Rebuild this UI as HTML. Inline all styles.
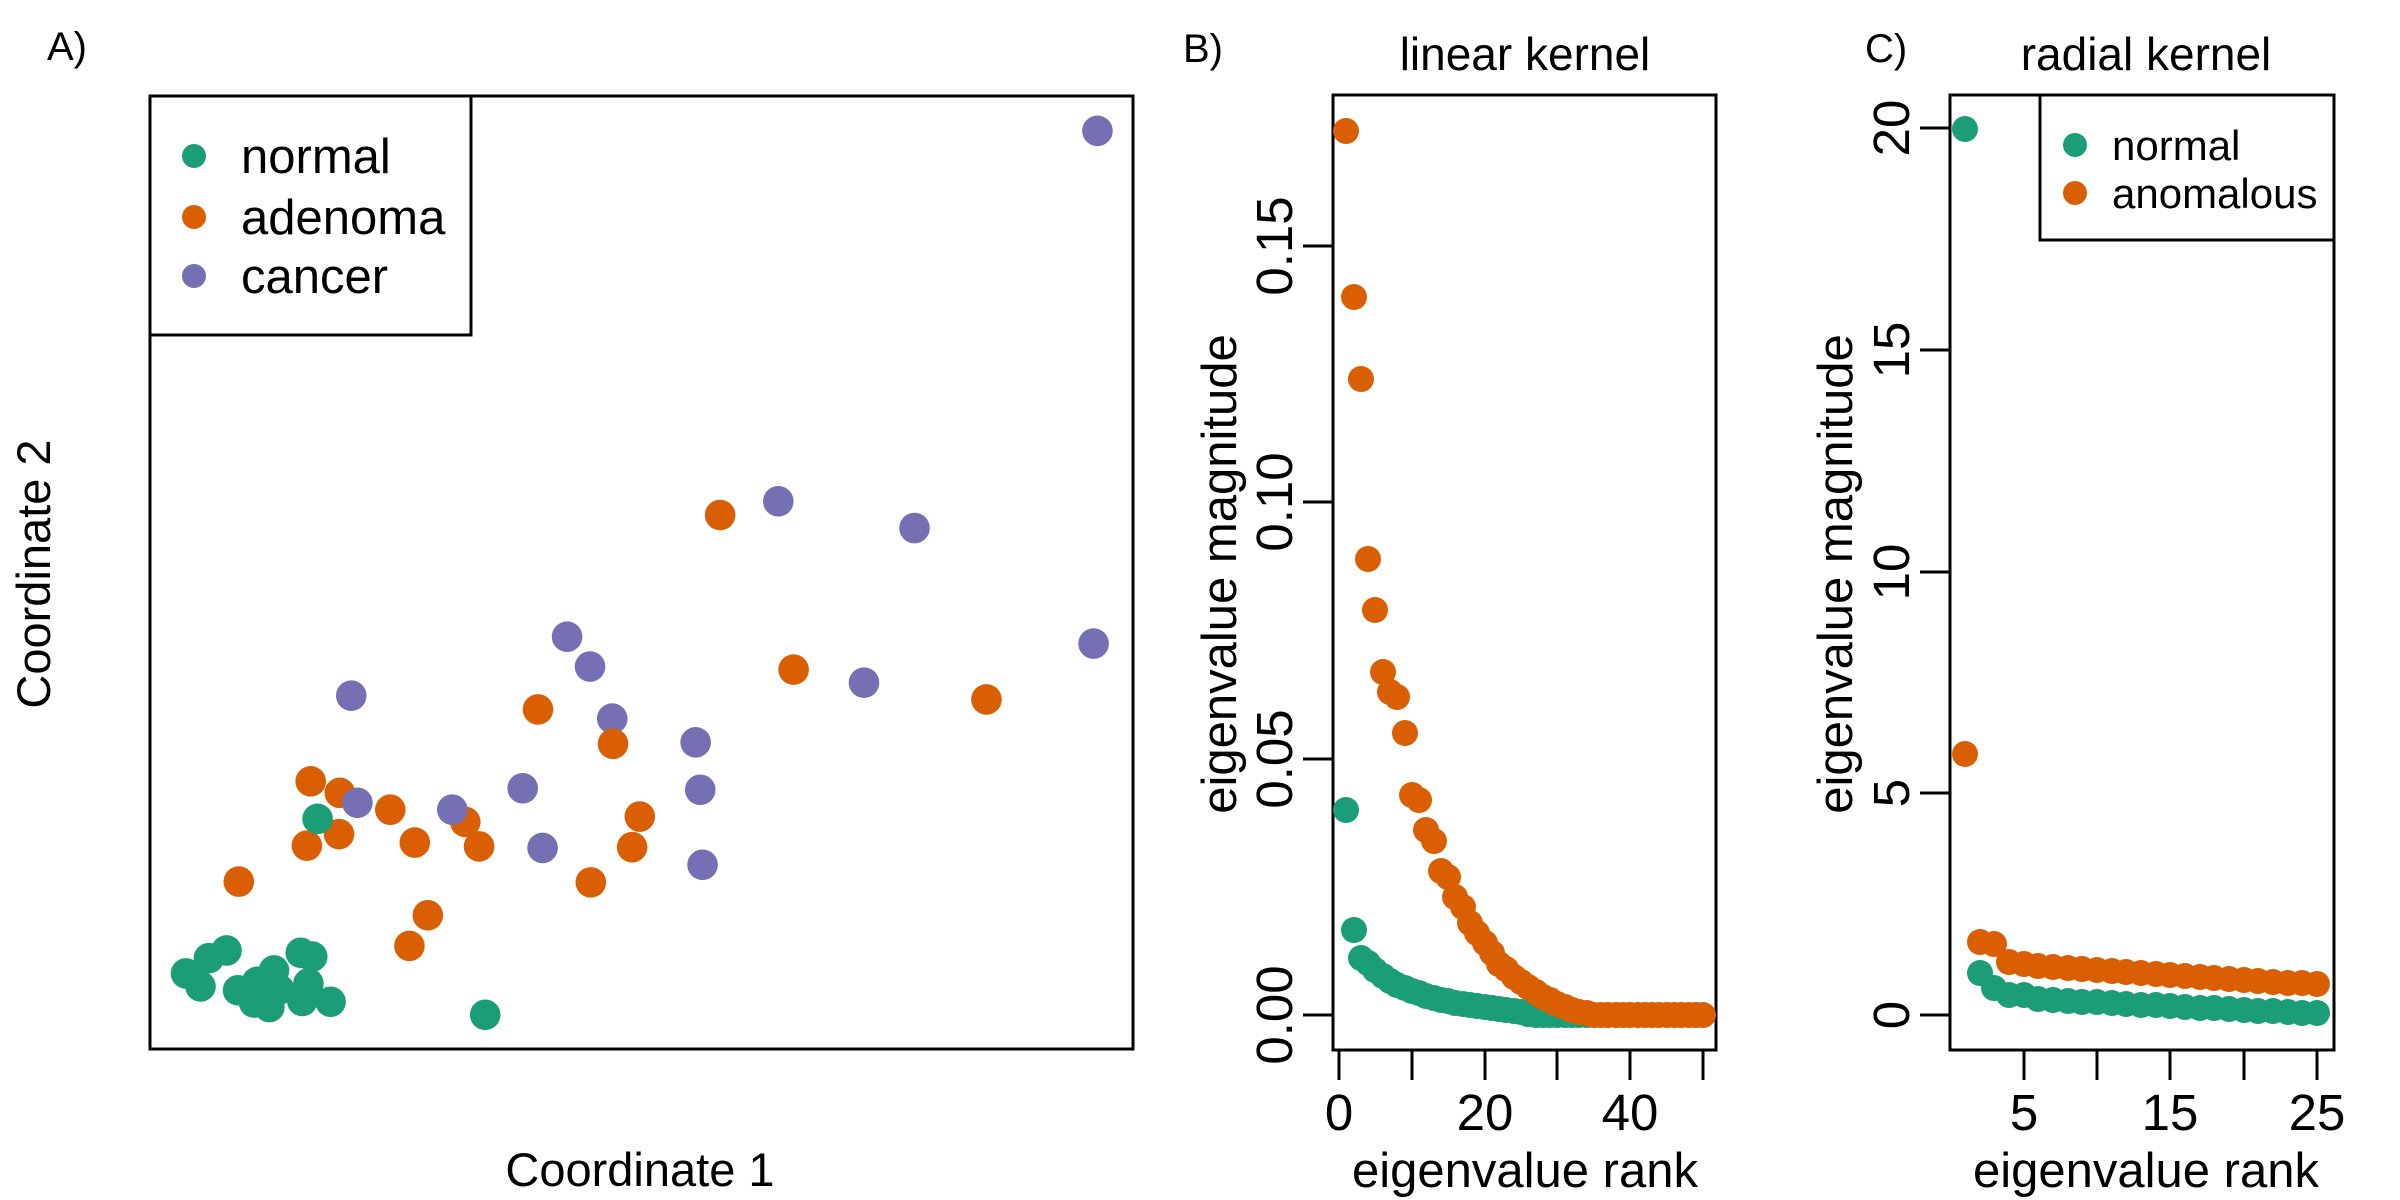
<!DOCTYPE html>
<html><head><meta charset="utf-8"><style>
html,body{margin:0;padding:0;background:#fff;}
svg{display:block;}
text{font-family:"Liberation Sans",sans-serif;fill:#000;}
</style></head><body>
<svg width="2400" height="1200" viewBox="0 0 2400 1200" xmlns="http://www.w3.org/2000/svg">
<!-- Panel A -->
<text x="47" y="60" font-size="40">A)</text>
<rect x="150" y="96" width="983" height="953" fill="none" stroke="#000" stroke-width="3"/>
<rect x="150" y="96" width="321" height="239" fill="none" stroke="#000" stroke-width="3"/>
<circle cx="194" cy="156" r="12" fill="#1B9E77"/>
<circle cx="194" cy="217" r="12" fill="#D95F02"/>
<circle cx="194" cy="276" r="12" fill="#7570B3"/>
<text x="241" y="173" font-size="49">normal</text>
<text x="241" y="234" font-size="49">adenoma</text>
<text x="241" y="293" font-size="49">cancer</text>
<text x="640" y="1186" font-size="47" text-anchor="middle">Coordinate 1</text>
<text transform="translate(50,574) rotate(-90)" font-size="47" text-anchor="middle">Coordinate 2</text>
<g transform="scale(0.76529)">
<g fill="#7570B3">
<circle cx="1434" cy="171" r="20"/><circle cx="1017" cy="655" r="20"/><circle cx="1195" cy="690" r="20"/><circle cx="1429" cy="841" r="20"/><circle cx="741" cy="832" r="20"/><circle cx="771" cy="871" r="20"/><circle cx="1129" cy="892" r="20"/><circle cx="459" cy="909" r="20"/><circle cx="800" cy="939" r="20"/><circle cx="909" cy="970" r="20"/><circle cx="915" cy="1032" r="20"/><circle cx="683" cy="1030" r="20"/><circle cx="709" cy="1108" r="20"/><circle cx="918" cy="1130" r="20"/>
</g>
<g fill="#D95F02">
<circle cx="941" cy="673" r="20"/><circle cx="1037" cy="875" r="20"/><circle cx="1289" cy="914" r="20"/><circle cx="703" cy="927" r="20"/><circle cx="801" cy="972" r="20"/><circle cx="406" cy="1021" r="20"/><circle cx="444" cy="1036" r="20"/><circle cx="510" cy="1058" r="20"/><circle cx="608" cy="1074" r="20"/><circle cx="443" cy="1090" r="20"/><circle cx="401" cy="1105" r="20"/><circle cx="542" cy="1101" r="20"/><circle cx="626" cy="1106" r="20"/><circle cx="836" cy="1067" r="20"/><circle cx="826" cy="1107" r="20"/><circle cx="772" cy="1153" r="20"/><circle cx="312" cy="1152" r="20"/><circle cx="559" cy="1196" r="20"/><circle cx="535" cy="1236" r="20"/>
</g>
<g fill="#7570B3"><circle cx="467" cy="1049" r="20"/><circle cx="591" cy="1058" r="20"/></g>
<g fill="#1B9E77">
<circle cx="415" cy="1070" r="20"/><circle cx="634" cy="1326" r="20"/><circle cx="243" cy="1272" r="20"/><circle cx="262" cy="1289" r="20"/><circle cx="273" cy="1252" r="20"/><circle cx="296" cy="1242" r="20"/><circle cx="311" cy="1294" r="20"/><circle cx="332" cy="1310" r="20"/><circle cx="336" cy="1283" r="20"/><circle cx="352" cy="1316" r="20"/><circle cx="358" cy="1268" r="20"/><circle cx="365" cy="1293" r="20"/><circle cx="393" cy="1245" r="20"/><circle cx="408" cy="1250" r="20"/><circle cx="403" cy="1285" r="20"/><circle cx="395" cy="1308" r="20"/><circle cx="432" cy="1309" r="20"/>
</g>
</g>

<!-- Panel B -->
<text x="1183" y="62" font-size="40">B)</text>
<text x="1525" y="70" font-size="46" text-anchor="middle">linear kernel</text>
<rect x="1333" y="95" width="383" height="955" fill="none" stroke="#000" stroke-width="3"/>
<g stroke="#000" stroke-width="3">
<line x1="1303" y1="1015" x2="1333" y2="1015"/><line x1="1303" y1="759" x2="1333" y2="759"/><line x1="1303" y1="502" x2="1333" y2="502"/><line x1="1303" y1="246" x2="1333" y2="246"/>
<line x1="1339" y1="1050" x2="1703" y2="1050"/>
<line x1="1339" y1="1050" x2="1339" y2="1080"/><line x1="1412" y1="1050" x2="1412" y2="1080"/><line x1="1485" y1="1050" x2="1485" y2="1080"/><line x1="1557" y1="1050" x2="1557" y2="1080"/><line x1="1630" y1="1050" x2="1630" y2="1080"/><line x1="1703" y1="1050" x2="1703" y2="1080"/>
</g>
<g font-size="51" text-anchor="middle">
<text transform="translate(1292,1015) rotate(-90)">0.00</text>
<text transform="translate(1292,759) rotate(-90)">0.05</text>
<text transform="translate(1292,502) rotate(-90)">0.10</text>
<text transform="translate(1292,246) rotate(-90)">0.15</text>
<text x="1339" y="1130">0</text><text x="1485" y="1130">20</text><text x="1630" y="1130">40</text>
</g>
<g font-size="49" text-anchor="middle">
<text x="1525" y="1187">eigenvalue rank</text>
<text transform="translate(1236,574) rotate(-90)">eigenvalue magnitude</text>
</g>
<g fill="#1B9E77">
<circle cx="1346" cy="810" r="13"/><circle cx="1354" cy="930" r="13"/><circle cx="1361" cy="958" r="13"/><circle cx="1368" cy="963" r="13"/><circle cx="1375" cy="970" r="13"/><circle cx="1383" cy="976" r="13"/><circle cx="1390" cy="981" r="13"/><circle cx="1397" cy="985" r="13"/><circle cx="1405" cy="988" r="13"/><circle cx="1412" cy="991" r="13"/><circle cx="1419" cy="993" r="13"/><circle cx="1426" cy="996" r="13"/><circle cx="1434" cy="998" r="13"/><circle cx="1441" cy="1000" r="13"/><circle cx="1448" cy="1001" r="13"/><circle cx="1455" cy="1003" r="13"/><circle cx="1463" cy="1004" r="13"/><circle cx="1470" cy="1005" r="13"/><circle cx="1477" cy="1006" r="13"/><circle cx="1485" cy="1007" r="13"/><circle cx="1492" cy="1008" r="13"/><circle cx="1499" cy="1009" r="13"/><circle cx="1506" cy="1010" r="13"/><circle cx="1514" cy="1011" r="13"/><circle cx="1521" cy="1012" r="13"/><circle cx="1528" cy="1014" r="13"/><circle cx="1536" cy="1015" r="13"/><circle cx="1543" cy="1015" r="13"/><circle cx="1550" cy="1015" r="13"/><circle cx="1557" cy="1015" r="13"/><circle cx="1565" cy="1015" r="13"/><circle cx="1572" cy="1015" r="13"/><circle cx="1579" cy="1015" r="13"/><circle cx="1587" cy="1015" r="13"/>
</g>
<g fill="#D95F02">
<circle cx="1346" cy="131" r="13"/><circle cx="1354" cy="297" r="13"/><circle cx="1361" cy="379" r="13"/><circle cx="1368" cy="559" r="13"/><circle cx="1375" cy="610" r="13"/><circle cx="1383" cy="672" r="13"/><circle cx="1390" cy="692" r="13"/><circle cx="1397" cy="697" r="13"/><circle cx="1405" cy="733" r="13"/><circle cx="1412" cy="795" r="13"/><circle cx="1419" cy="800" r="13"/><circle cx="1426" cy="830" r="13"/><circle cx="1434" cy="841" r="13"/><circle cx="1441" cy="871" r="13"/><circle cx="1448" cy="877" r="13"/><circle cx="1455" cy="897" r="13"/><circle cx="1463" cy="907" r="13"/><circle cx="1470" cy="923" r="13"/><circle cx="1477" cy="933" r="13"/><circle cx="1485" cy="943" r="13"/><circle cx="1492" cy="953" r="13"/><circle cx="1499" cy="964" r="13"/><circle cx="1506" cy="969" r="13"/><circle cx="1514" cy="977" r="13"/><circle cx="1521" cy="982" r="13"/><circle cx="1528" cy="987" r="13"/><circle cx="1536" cy="992" r="13"/><circle cx="1543" cy="997" r="13"/><circle cx="1550" cy="1000" r="13"/><circle cx="1557" cy="1004" r="13"/><circle cx="1565" cy="1007" r="13"/><circle cx="1572" cy="1010" r="13"/><circle cx="1579" cy="1012" r="13"/><circle cx="1587" cy="1013" r="13"/>
<circle cx="1594" cy="1015" r="13"/><circle cx="1601" cy="1015" r="13"/><circle cx="1608" cy="1015" r="13"/><circle cx="1616" cy="1015" r="13"/><circle cx="1623" cy="1015" r="13"/><circle cx="1630" cy="1015" r="13"/><circle cx="1638" cy="1015" r="13"/><circle cx="1645" cy="1015" r="13"/><circle cx="1652" cy="1015" r="13"/><circle cx="1659" cy="1015" r="13"/><circle cx="1667" cy="1015" r="13"/><circle cx="1674" cy="1015" r="13"/><circle cx="1681" cy="1015" r="13"/><circle cx="1689" cy="1015" r="13"/><circle cx="1696" cy="1015" r="13"/><circle cx="1703" cy="1015" r="13"/>
</g>

<!-- Panel C -->
<text x="1865" y="62" font-size="40">C)</text>
<text x="2146" y="70" font-size="46" text-anchor="middle">radial kernel</text>
<rect x="1950" y="95" width="384" height="955" fill="none" stroke="#000" stroke-width="3"/>
<rect x="2040" y="95" width="294" height="145" fill="#fff" stroke="#000" stroke-width="3"/>
<circle cx="2075" cy="145" r="12" fill="#1B9E77"/>
<circle cx="2075" cy="193" r="12" fill="#D95F02"/>
<text x="2112" y="160" font-size="42">normal</text>
<text x="2112" y="208" font-size="42">anomalous</text>
<g stroke="#000" stroke-width="3">
<line x1="1920" y1="1015" x2="1950" y2="1015"/><line x1="1920" y1="793" x2="1950" y2="793"/><line x1="1920" y1="572" x2="1950" y2="572"/><line x1="1920" y1="350" x2="1950" y2="350"/><line x1="1920" y1="128" x2="1950" y2="128"/>
<line x1="2024" y1="1050" x2="2317" y2="1050"/>
<line x1="2024" y1="1050" x2="2024" y2="1080"/><line x1="2097" y1="1050" x2="2097" y2="1080"/><line x1="2170" y1="1050" x2="2170" y2="1080"/><line x1="2244" y1="1050" x2="2244" y2="1080"/><line x1="2317" y1="1050" x2="2317" y2="1080"/>
</g>
<g font-size="51" text-anchor="middle">
<text transform="translate(1909,1015) rotate(-90)">0</text>
<text transform="translate(1909,793) rotate(-90)">5</text>
<text transform="translate(1909,572) rotate(-90)">10</text>
<text transform="translate(1909,350) rotate(-90)">15</text>
<text transform="translate(1909,128) rotate(-90)">20</text>
<text x="2024" y="1130">5</text><text x="2170" y="1130">15</text><text x="2317" y="1130">25</text>
</g>
<g font-size="49" text-anchor="middle">
<text x="2146" y="1187">eigenvalue rank</text>
<text transform="translate(1852,574) rotate(-90)">eigenvalue magnitude</text>
</g>
<g fill="#D95F02">
<circle cx="1965" cy="754" r="13"/><circle cx="1980" cy="942" r="13"/><circle cx="1994" cy="944" r="13"/><circle cx="2009" cy="962" r="13"/><circle cx="2024" cy="964" r="13"/><circle cx="2038" cy="966" r="13"/><circle cx="2053" cy="967" r="13"/><circle cx="2068" cy="968" r="13"/><circle cx="2082" cy="969" r="13"/><circle cx="2097" cy="970" r="13"/><circle cx="2112" cy="971" r="13"/><circle cx="2126" cy="972" r="13"/><circle cx="2141" cy="973" r="13"/><circle cx="2156" cy="974" r="13"/><circle cx="2170" cy="975" r="13"/><circle cx="2185" cy="976" r="13"/><circle cx="2200" cy="977" r="13"/><circle cx="2214" cy="978" r="13"/><circle cx="2229" cy="979" r="13"/><circle cx="2244" cy="980" r="13"/><circle cx="2258" cy="981" r="13"/><circle cx="2273" cy="982" r="13"/><circle cx="2288" cy="983" r="13"/><circle cx="2302" cy="983" r="13"/><circle cx="2317" cy="984" r="13"/>
</g>
<g fill="#1B9E77">
<circle cx="1965" cy="129" r="13"/><circle cx="1980" cy="973" r="13"/><circle cx="1994" cy="988" r="13"/><circle cx="2009" cy="995" r="13"/><circle cx="2024" cy="995" r="13"/><circle cx="2038" cy="999" r="13"/><circle cx="2053" cy="1000" r="13"/><circle cx="2068" cy="1001" r="13"/><circle cx="2082" cy="1002" r="13"/><circle cx="2097" cy="1002" r="13"/><circle cx="2112" cy="1003" r="13"/><circle cx="2126" cy="1004" r="13"/><circle cx="2141" cy="1005" r="13"/><circle cx="2156" cy="1005" r="13"/><circle cx="2170" cy="1006" r="13"/><circle cx="2185" cy="1007" r="13"/><circle cx="2200" cy="1008" r="13"/><circle cx="2214" cy="1008" r="13"/><circle cx="2229" cy="1009" r="13"/><circle cx="2244" cy="1010" r="13"/><circle cx="2258" cy="1011" r="13"/><circle cx="2273" cy="1011" r="13"/><circle cx="2288" cy="1012" r="13"/><circle cx="2302" cy="1013" r="13"/><circle cx="2317" cy="1013" r="13"/>
</g>
</svg>
</body></html>
